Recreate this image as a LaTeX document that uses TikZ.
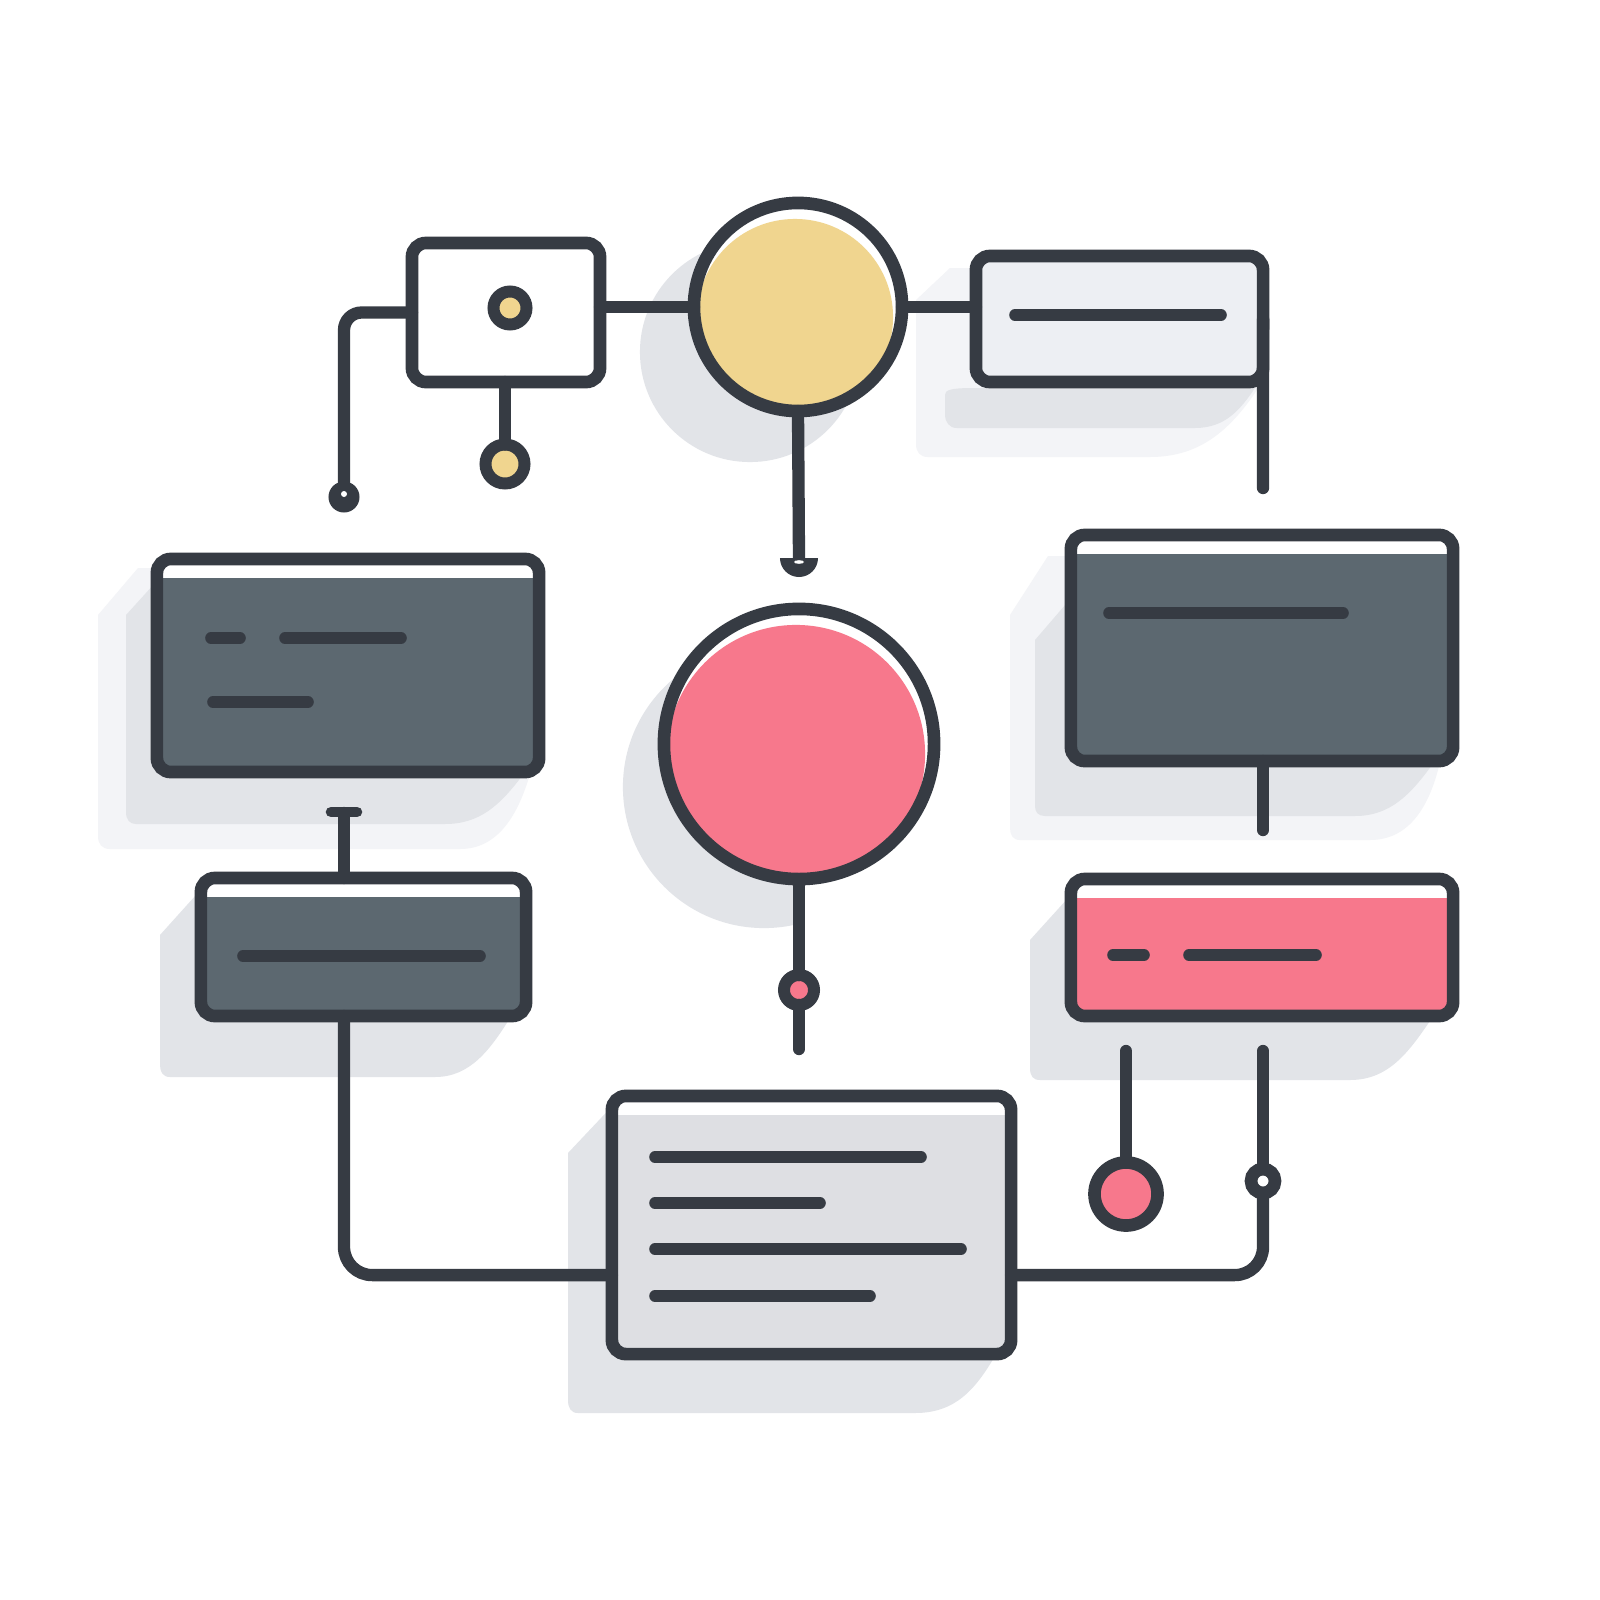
\documentclass[tikz,border=0pt]{standalone}
\usetikzlibrary{calc}
\definecolor{ink}{RGB}{54,59,67}
\definecolor{slate}{RGB}{92,104,112}
\definecolor{sun}{RGB}{240,213,143}
\definecolor{rose}{RGB}{247,120,140}
\definecolor{paper}{RGB}{237,239,243}
\definecolor{mist}{RGB}{222,223,227}
\definecolor{shadeA}{RGB}{226,228,232}
\definecolor{shadeB}{RGB}{243,244,247}
\tikzset{
  conn/.style={draw=ink, line width=3.5pt, line cap=round, line join=round},
  txtbar/.style={draw=ink, line width=3.3pt, line cap=round},
  boxbase/.style={rectangle, draw=ink, line width=3.6pt, rounded corners=4pt, inner sep=0pt, outer sep=0pt},
  slab/.style={boxbase, fill=white, path picture={\fill[#1, sharp corners] ([yshift=-0.19cm]path picture bounding box.north west) rectangle (path picture bounding box.south east);}},
  orb/.style 2 args={circle, draw=ink, line width=3.6pt, fill=white, inner sep=0pt, outer sep=0pt, minimum size=#2,
    path picture={\fill[#1] ([xshift=-0.03cm,yshift=-0.10cm]path picture bounding box.center) circle[radius=0.5*#2-0.06cm];}},
  ring/.style={circle, draw=ink, line width=3.4pt, fill=#1, inner sep=0pt, outer sep=0pt},
}
\begin{document}
\begin{tikzpicture}[x=0.01cm, y=-0.01cm]
\fill[white] (0,0) rectangle (1600,1600);
\useasboundingbox (0,0) rectangle (1600,1600);

% ---------- shadows ----------
\fill[shadeA] (750,352) circle[radius=1.10cm];
\fill[shadeA] (645,340) -- (705,250) -- (800,250) -- (800,352) -- cycle;
\begin{scope}
  \clip (0,0) rectangle (803,1600);
  \fill[shadeA] (764,787) circle[radius=1.41cm];
  \fill[shadeA] (624,775) -- (665,692) -- (764,692) -- (764,787) -- cycle;
\end{scope}

% top-right box
\fill[shadeB] (916,300) -- (950,268) -- (1255,268) -- (1257,390)
   .. controls (1230,430) and (1200,457) .. (1150,457) -- (928,457)
   .. controls (920,457) and (916,452) .. (916,444) -- cycle;
\fill[shadeA] (945,395) .. controls (945,390) and (950,388) .. (975,388) -- (1255,388) .. controls (1240,410) and (1225,428) .. (1195,428)
   -- (957,428) .. controls (949,428) and (945,422) .. (945,414) -- cycle;

% left dark box
\fill[shadeB] (98,615) -- (138,568) -- (530,575) -- (530,774)
   .. controls (518,815) and (498,849) .. (460,849) -- (110,849)
   .. controls (102,849) and (98,844) .. (98,836) -- cycle;
\fill[shadeA] (126,615) -- (165,572) -- (165,776) -- (522,776)
   .. controls (500,805) and (480,824) .. (445,824) -- (136,824)
   .. controls (130,824) and (126,820) .. (126,812) -- cycle;

% lower-left dark box
\fill[shadeA] (160,935) -- (205,885) -- (520,892) -- (520,1018) -- (510,1018)
   .. controls (490,1050) and (470,1077) .. (435,1077) -- (170,1077)
   .. controls (163,1077) and (160,1072) .. (160,1065) -- cycle;

% right dark box
\fill[shadeB] (1010,615) -- (1048,556) -- (1440,556) -- (1440,762)
   .. controls (1430,805) and (1410,840) .. (1370,840) -- (1020,840)
   .. controls (1013,840) and (1010,835) .. (1010,828) -- cycle;
\fill[shadeA] (1035,640) -- (1078,590) -- (1078,765) -- (1432,765)
   .. controls (1410,795) and (1390,816) .. (1355,816) -- (1045,816)
   .. controls (1038,816) and (1035,812) .. (1035,806) -- cycle;

% right pink box
\fill[shadeA] (1030,940) -- (1078,887) -- (1440,897) -- (1432,1018)
   .. controls (1410,1050) and (1390,1080) .. (1350,1080) -- (1040,1080)
   .. controls (1033,1080) and (1030,1076) .. (1030,1068) -- cycle;

% bottom box
\fill[shadeA] (568,1153) -- (618,1100) -- (1000,1110) -- (1000,1356) -- (995,1356)
   .. controls (975,1390) and (955,1413) .. (915,1413) -- (578,1413)
   .. controls (571,1413) and (568,1408) .. (568,1400) -- cycle;

% ---------- boxes ----------
\node[boxbase, fill=white, minimum width=1.88cm, minimum height=1.39cm] (B1) at (506,312.5) {};
\node[boxbase, fill=paper, minimum width=2.87cm, minimum height=1.26cm] (B2) at (1119.5,319) {};
\node[slab=slate, minimum width=3.82cm, minimum height=2.13cm] (B3) at (348,665.5) {};
\node[slab=slate, minimum width=3.25cm, minimum height=1.38cm] (B4) at (363.5,947) {};
\node[slab=slate, minimum width=3.82cm, minimum height=2.26cm] (B5) at (1262,648) {};
\node[slab=rose, minimum width=3.82cm, minimum height=1.37cm] (B6) at (1262,947.5) {};
\node[slab=mist, minimum width=3.99cm, minimum height=2.58cm] (B7) at (811.5,1225) {};

% ---------- circles ----------
\node[orb={sun}{2.08cm}] (C1) at (798,307) {};
\node[orb={rose}{2.70cm}] (C2) at (799,744) {};

% ---------- terminals ----------
\node[ring=sun, minimum size=0.33cm] (D1) at (510,308) {};
\node[circle, fill=ink, inner sep=0pt, outer sep=0pt, minimum size=0.31cm] (T1) at (344,497) {};
\fill[white] (344,494) circle[radius=0.03cm];
\node[ring=sun, minimum size=0.39cm] (T2) at (505,464) {};
\coordinate (T3) at (799,560);
\node[ring=rose, minimum size=0.30cm] (T4) at (799,990) {};
\node[ring=rose, minimum size=0.63cm, line width=3.6pt] (T5) at (1126,1194) {};
\node[ring=white, minimum size=0.24cm, line width=3.6pt] (T6) at (1263,1181) {};
\coordinate (CAP) at (344,813);
\coordinate (E1) at (1263,488);
\coordinate (E2) at (799,1049);
\coordinate (E3) at (1263,830);
\coordinate (S1) at (1126,1051);
\coordinate (S2) at (1263,1051);

% ---------- connectors ----------
\draw[conn, rounded corners=5pt] (B1.west) -| (T1.north);
\draw[conn] (T2 |- B1.south) -- (T2.north);
\draw[conn] (C1.west -| B1.east) -- (C1.west);
\draw[conn] (C1.east) -- (C1.east -| B2.west);
\draw[conn] (C1.south) -- (T3);
\fill[ink] (780,558) -- (818,558) arc[start angle=0, end angle=-180, radius=0.19cm] -- cycle;
\fill[white] (799,562) ellipse[x radius=0.05cm, y radius=0.018cm];
\draw[conn] (B2.east) -- (E1);
\draw[conn, line width=3pt] (331,812) -- (357,812);
\draw[conn] (CAP) -- (CAP |- B4.north);
\draw[conn, rounded corners=8pt] (CAP |- B4.south) |- ($(B7.north west)!0.694!(B7.south west)$);
\draw[conn] (C2.south) -- (T4.north);
\draw[conn] (T4.south) -- (E2);
\draw[conn] (B5.south -| E3) -- (E3);
\draw[conn] (S1) -- (T5.north);
\draw[conn] (S2) -- (T6.north);
\draw[conn, rounded corners=8pt] (T6.south) |- ($(B7.north east)!0.694!(B7.south east)$);

% ---------- text bars ----------
\draw[txtbar] (1015,315) -- (1221,315);
\draw[txtbar] (211,638) -- (240,638);
\draw[txtbar] (285,638) -- (401,638);
\draw[txtbar] (213,702) -- (308,702);
\draw[txtbar] (243,956) -- (480,956);
\draw[txtbar] (1109,613) -- (1343,613);
\draw[txtbar] (1113,955) -- (1144,955);
\draw[txtbar] (1189,955) -- (1316,955);
\draw[txtbar] (655,1157) -- (921,1157);
\draw[txtbar] (655,1203) -- (820,1203);
\draw[txtbar] (655,1249) -- (961,1249);
\draw[txtbar] (655,1296) -- (870,1296);
\end{tikzpicture}
\end{document}
